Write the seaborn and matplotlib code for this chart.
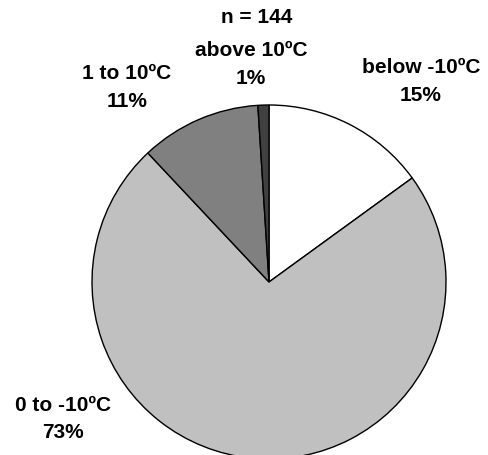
import numpy as np
import seaborn as sns
import matplotlib.pyplot as plt

## Data
labels = ['below -10ºC', '0 to -10ºC', '1 to 10ºC', 'above 10ºC']
shares = [15, 73, 11, 1]
colors = ['#FFFFFF', '#C0C0C0', '#808080', '#404040']
title = 'n = 144'

# label anchor spots (data units, pie radius = 1)
label_xy = [(0.859, 1.133), (-1.164, -0.774), (-0.802, 1.099), (-0.102, 1.229)]

sns.set_style('white')
plt.rcParams['font.family'] = ['Liberation Sans', 'DejaVu Sans']

fig = plt.figure(figsize=(4.88, 4.55), dpi=100)
ax = fig.add_axes([(269 - 177) / 488, (173 - 177) / 455, 354 / 488, 354 / 455])

ax.pie(shares, colors=colors, startangle=90, counterclock=False,
       wedgeprops=dict(edgecolor='black', linewidth=1.0))
ax.set_xlim(-1, 1)
ax.set_ylim(-1, 1)
ax.set_aspect('equal')
ax.axis('off')

for lab, val, (x, y) in zip(labels, shares, label_xy):
    ax.text(x, y, f'{lab}\n{val}%', ha='center', va='center', fontsize=15,
            fontweight='bold', linespacing=1.55, color='black', clip_on=False)

ax.text(-0.068, 1.494, title, ha='center', va='center', fontsize=15,
        fontweight='bold', color='black', clip_on=False)

fig.savefig('out.png', dpi=100)
